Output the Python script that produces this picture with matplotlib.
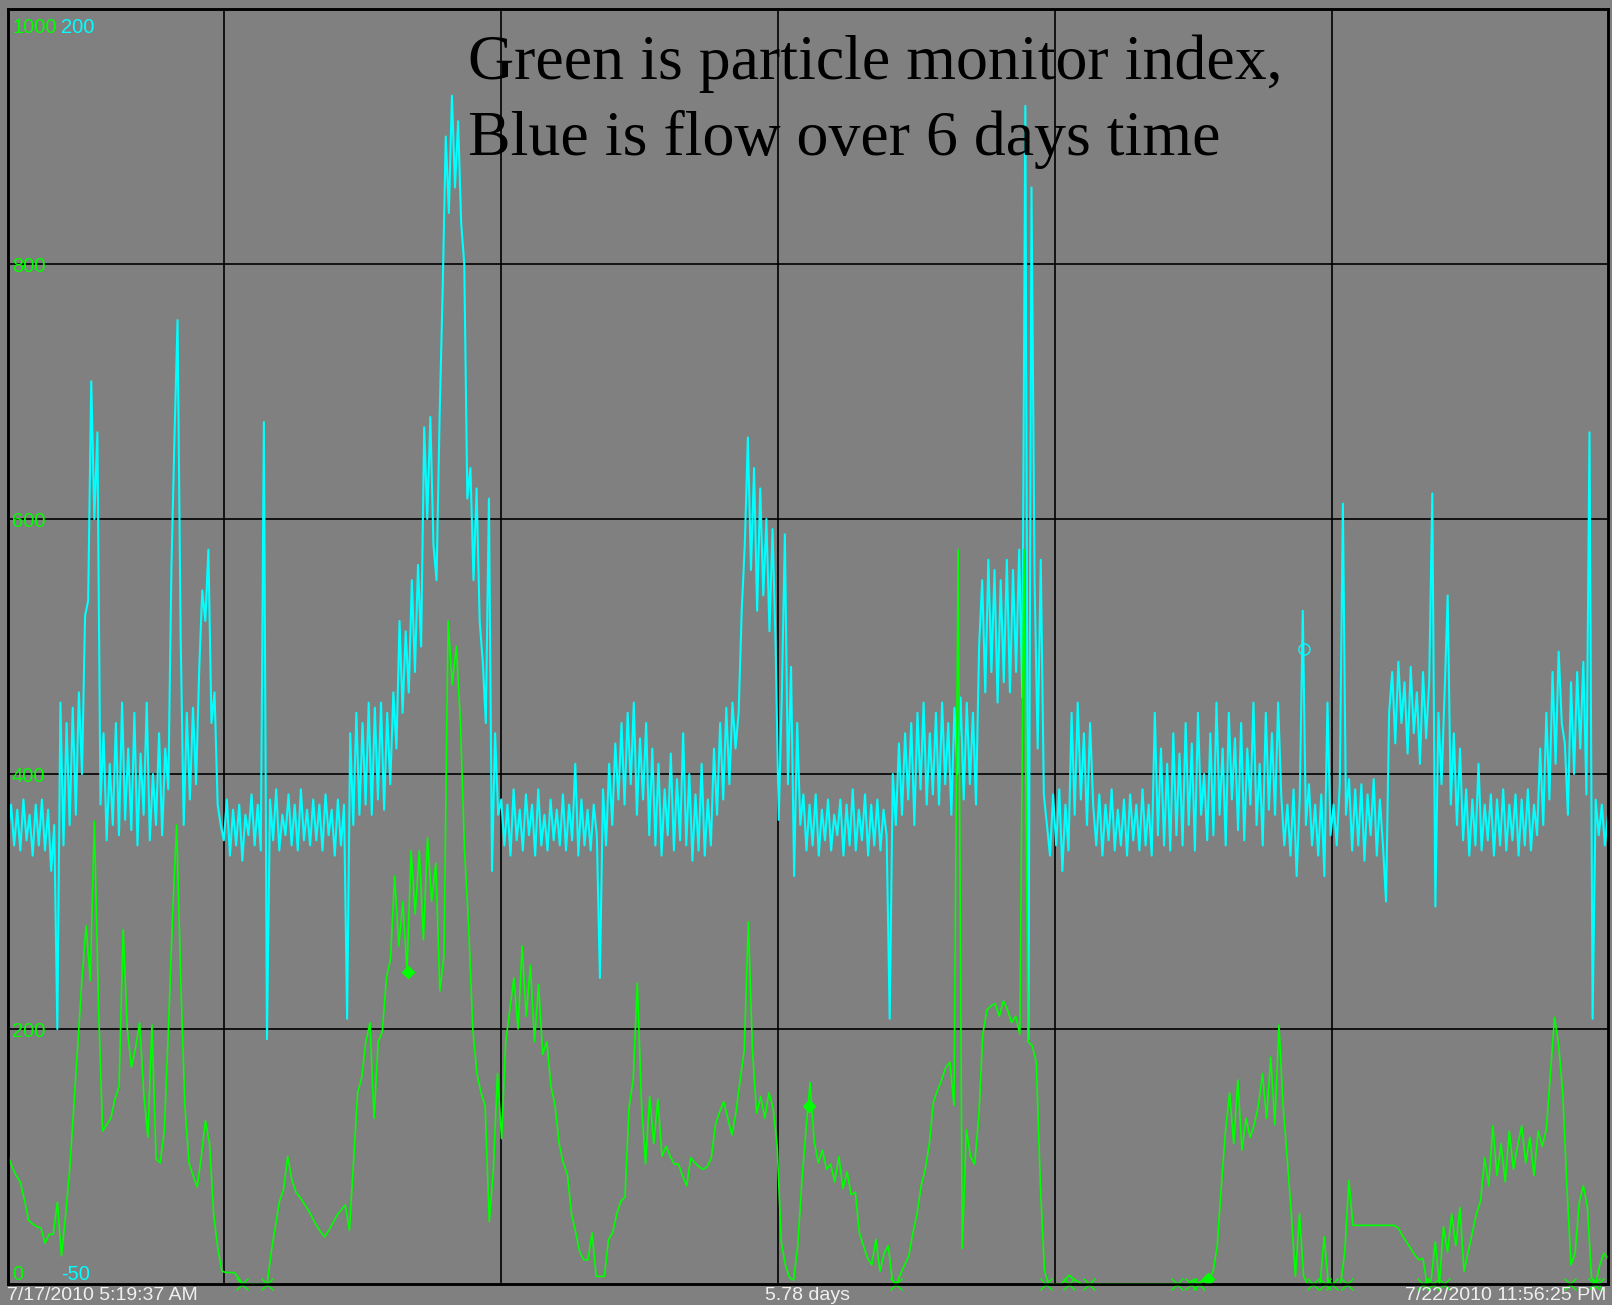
import numpy as np
import matplotlib.pyplot as plt

# flow trace (cyan), evenly spaced over the 5.78 days
flow = [
    38, 44, 36, 43, 35, 45, 37, 42, 34, 44,
    36, 45, 35, 43, 31, 40, 0, 64, 36, 60,
    40, 63, 42, 66, 50, 81, 84, 127, 100, 117,
    44, 58, 37, 52, 40, 60, 38, 64, 41, 55,
    39, 62, 36, 54, 42, 64, 37, 50, 40, 58,
    38, 55, 47, 90, 116, 139, 77, 40, 62, 45,
    63, 48, 70, 86, 80, 94, 60, 66, 44, 40,
    37, 45, 34, 43, 36, 44, 33, 42, 38, 46,
    36, 44, 35, 119, -2, 45, 37, 47, 35, 42,
    38, 46, 36, 44, 35, 47, 37, 43, 36, 45,
    37, 44, 35, 46, 38, 43, 34, 45, 36, 44,
    2, 58, 40, 62, 42, 60, 44, 64, 42, 63,
    45, 64, 43, 62, 48, 66, 55, 80, 62, 78,
    66, 88, 70, 91, 75, 118, 100, 120, 95, 88,
    120, 145, 175, 160, 183, 165, 178, 158, 150, 104,
    110, 88, 106, 80, 72, 60, 104, 31, 58, 42,
    45, 36, 44, 34, 47, 37, 43, 35, 46, 38,
    44, 34, 47, 36, 42, 35, 45, 37, 43, 36,
    46, 35, 44, 37, 52, 34, 45, 36, 43, 35,
    44, 38, 10, 47, 36, 52, 40, 56, 45, 60,
    44, 62, 48, 64, 42, 57, 45, 60, 38, 55,
    36, 52, 34, 47, 38, 54, 35, 49, 37, 58,
    36, 50, 33, 46, 35, 52, 34, 45, 36, 55,
    42, 60, 45, 63, 48, 64, 55, 62, 82, 95,
    116, 90, 110, 82, 106, 85, 100, 78, 98, 75,
    41, 65, 97, 48, 71, 30, 60, 40, 46, 35,
    44, 36, 46, 34, 43, 37, 45, 35, 42, 38,
    45, 34, 44, 36, 47, 35, 43, 37, 46, 34,
    44, 36, 45, 35, 43, 38, 2, 50, 40, 56,
    42, 58, 45, 60, 40, 62, 47, 64, 44, 58,
    46, 62, 44, 64, 48, 60, 42, 63, 50, 65,
    45, 64, 48, 62, 44, 75, 88, 66, 92, 70,
    90, 64, 88, 68, 92, 66, 90, 70, 94, 65,
    181, -2, 165, 88, 55, 92, 46, 40, 34, 46,
    36, 47, 31, 44, 35, 62, 42, 64, 45, 58,
    40, 60, 44, 36, 46, 34, 44, 37, 47, 35,
    43, 36, 45, 34, 46, 37, 44, 35, 47, 36,
    44, 34, 62, 38, 55, 36, 52, 35, 58, 38,
    54, 36, 60, 40, 56, 35, 62, 42, 50, 37,
    58, 38, 64, 42, 55, 36, 62, 45, 57, 39,
    60, 37, 55, 44, 64, 40, 52, 36, 62, 43,
    58, 42, 64, 46, 36, 44, 34, 47, 30, 45,
    82, 40, 48, 36, 44, 34, 46, 30, 64, 38,
    44, 36, 48, 103, 42, 49, 35, 47, 36, 48,
    33, 46, 38, 49, 34, 45, 36, 25, 62, 70,
    56, 72, 60, 68, 54, 71, 58, 66, 52, 70,
    57, 68, 105, 24, 62, 48, 66, 85, 44, 58,
    40, 55, 37, 47, 34, 45, 36, 52, 35, 44,
    37, 46, 34, 45, 36, 47, 35, 44, 37, 46,
    34, 45, 36, 47, 35, 44, 38, 55, 40, 62,
    45, 70, 52, 74, 60, 56, 42, 68, 50, 70,
    55, 72, 46, 117, 2, 45, 38, 44, 36, 42,
]

# particle monitor index (green)
particles = [
    100, 92, 85, 80, 66, 50, 47, 45, 44, 32,
    39, 39, 64, 22, 54, 90, 139, 190, 240, 281,
    238, 363, 218, 120, 125, 130, 145, 155, 278, 200,
    170, 185, 205, 150, 115, 203, 98, 95, 120, 200,
    288, 360, 238, 140, 95, 85, 76, 100, 128, 110,
    55, 28, 10, 9, 9, 9, 5, 0, 0, 0,
    0, 0, 0, 0, 25, 45, 65, 74, 100, 82,
    72, 68, 63, 58, 52, 46, 41, 37, 42, 48,
    54, 58, 62, 42, 95, 150, 162, 190, 205, 130,
    190, 198, 240, 255, 320, 265, 300, 245, 340, 290,
    340, 270, 350, 300, 330, 230, 258, 520, 470, 500,
    440, 340, 280, 200, 165, 150, 140, 49, 89, 165,
    114, 190, 215, 240, 200, 265, 210, 250, 190, 235,
    180, 190, 155, 140, 110, 95, 86, 55, 41, 25,
    19, 19, 40, 6, 6, 6, 35, 40, 55, 65,
    68, 139, 160, 236, 143, 94, 147, 110, 145, 100,
    108, 100, 94, 94, 85, 77, 99, 95, 92, 90,
    92, 99, 125, 135, 143, 130, 117, 135, 160, 183,
    284, 183, 134, 147, 130, 150, 138, 108, 33, 15,
    5, 3, 30, 80, 121, 158, 112, 95, 105, 90,
    94, 80, 100, 75, 88, 70, 72, 40, 30, 20,
    15, 35, 10, 24, 30, 3, 0, 8, 15, 22,
    40, 55, 77, 90, 110, 143, 152, 160, 170, 174,
    140, 576, 28, 121, 100, 94, 130, 196, 215, 218,
    220, 210, 222, 215, 205, 210, 196, 576, 190, 187,
    174, 77, 10, 0, 0, 0, 0, 3, 7, 4,
    2, 0, 0, 0, 0, 0, 0, 0, 0, 0,
    0, 0, 0, 0, 0, 0, 0, 0, 0, 0,
    0, 0, 0, 0, 0, 0, 0, 0, 3, 0,
    2, 4, 4, 10, 30, 77, 120, 150, 110, 160,
    105, 130, 115, 125, 140, 165, 130, 178, 125, 203,
    140, 99, 55, 6, 55, 6, 0, 0, 0, 0,
    37, 0, 0, 0, 0, 25, 81, 46, 46, 46,
    46, 46, 46, 46, 46, 46, 46, 46, 44, 38,
    33, 28, 23, 19, 20, 0, 3, 33, 0, 45,
    25, 55, 30, 60, 10, 25, 40, 55, 65, 99,
    77, 124, 85, 110, 80, 120, 90, 108, 124, 95,
    115, 85, 120, 108, 121, 165, 209, 187, 150, 77,
    15, 24, 64, 77, 60, 5, 0, 15, 24, 20,
]

# hours since 7/17/2010 5:19:37 AM
span_h = 138.61
midnights = [18.673 + 24 * k for k in range(5)]

# event markers
zero_marks = [20.24, 22.46, 76.89, 89.89, 91.94, 93.63, 101.29, 102.45, 103.16,
              113.05, 114.12, 114.74, 115.99, 122.58, 123.47, 124.36,
              135.31, 137.36, 137.72]
diamond_t = [34.67, 69.40, 103.96]
diamond_v = [245, 140, 4]
circle_t = [112.25]
circle_v = [74.6]

green = '#00ff00'
cyan = '#00ffff'
bg = '#808080'
lab_font = ['Liberation Sans', 'DejaVu Sans']

W, H = 1612, 1305
fig = plt.figure(figsize=(W / 100, H / 100), dpi=100, facecolor=bg)
ax = fig.add_axes([8 / W, 21 / H, 1600 / W, 1275 / H])
ax.set_facecolor(bg)

flow_t = np.linspace(0, span_h, len(flow))
part_t = np.linspace(0, span_h, len(particles))

ax.plot(flow_t, flow, color=cyan, lw=1.5)
ax.plot(circle_t, circle_v, 'o', mfc='none', mec=cyan, ms=8, mew=1)
ax.set_xlim(0, span_h)
ax.set_ylim(-50, 200)
ax.set_xticks(midnights)
ax.set_yticks([0, 50, 100, 150])
ax.grid(True, color='black', lw=1.2)
ax.tick_params(length=0, labelbottom=False, labelleft=False)

ax2 = ax.twinx()
ax2.set_ylim(0, 1000)
ax2.plot(part_t, particles, color=green, lw=1.2)
ax2.plot(zero_marks, [0] * len(zero_marks), 'x', color=green, ms=8, mew=1, clip_on=False)
ax2.plot(diamond_t, diamond_v, 'D', color=green, ms=6)
ax2.set_yticks([])
ax2.tick_params(length=0, labelright=False)

for a in (ax, ax2):
    for s in a.spines.values():
        s.set_color('black')
        s.set_linewidth(1.8)

# scale labels inside the plot
tr = ax2.get_yaxis_transform()
fs = 14.5
ax2.text(0.0025, 981, '1000', color=green, transform=tr, fontsize=fs, family=lab_font, va='baseline')
ax2.text(0.033, 981, '200', color=cyan, transform=tr, fontsize=fs, family=lab_font, va='baseline')
for v in [800, 600, 400, 200]:
    ax2.text(0.0025, v - 6.3, str(v), color=green, transform=tr, fontsize=fs, family=lab_font, va='baseline')
ax2.text(0.0025, 3, '0', color=green, transform=tr, fontsize=fs, family=lab_font, va='baseline')
ax2.text(0.033, 3, '-50', color=cyan, transform=tr, fontsize=fs, family=lab_font, va='baseline')

# time labels under the plot
yb = 1 / H
fig.text(7 / W, yb, '7/17/2010 5:19:37 AM', color='#f0f0f0', fontsize=14, family=lab_font, va='bottom')
fig.text(808 / W, yb, '5.78 days', color='#f0f0f0', fontsize=14, family=lab_font, va='bottom', ha='center')
fig.text(1606 / W, yb, '7/22/2010 11:56:25 PM', color='#f0f0f0', fontsize=14, family=lab_font, va='bottom', ha='right')

fig.text(468 / W, 1 - 79 / H, 'Green is particle monitor index,', fontsize=46,
         family=['Liberation Serif', 'DejaVu Serif'], va='baseline')
fig.text(468 / W, 1 - 155 / H, 'Blue is flow over 6 days time', fontsize=46,
         family=['Liberation Serif', 'DejaVu Serif'], va='baseline')

fig.savefig('out.png', dpi=100, facecolor=bg)
